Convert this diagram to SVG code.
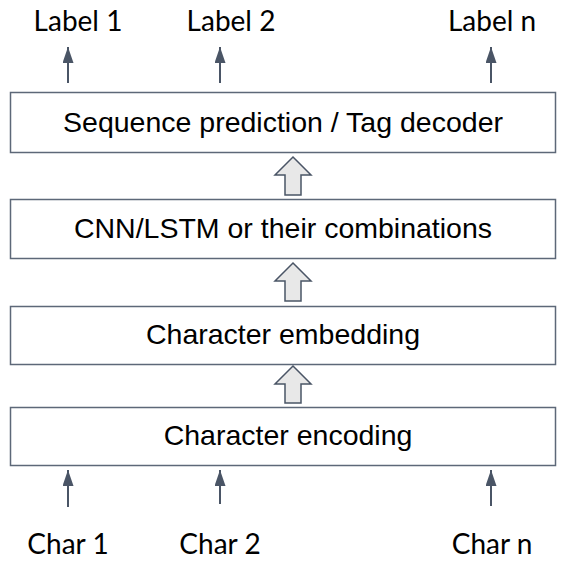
<svg xmlns="http://www.w3.org/2000/svg" width="574" height="566" viewBox="0 0 574 566">
<style>
.box{fill:#fff;stroke:#5d6878;stroke-width:1.5}
.t{font-family:"Liberation Sans",Arial,sans-serif;font-size:28.5px;fill:#000;text-anchor:middle;dominant-baseline:central}
.lbl{font-family:"Lato","Open Sans",sans-serif;font-size:28px;fill:#000;text-anchor:middle}
.ln{stroke:#4a5566;stroke-width:2;fill:none}
.hollow{fill:#e8e8e8;stroke:#4a5566;stroke-width:1.5;stroke-linejoin:miter}
</style>
<defs>
<marker id="ah" viewBox="0 0 16 11" refX="16" refY="5.5" markerWidth="8" markerHeight="5.5" orient="auto" markerUnits="strokeWidth">
<path d="M0,0 L16,5.5 L0,11 z" fill="#4a5566"/>
</marker>
</defs>
<rect width="574" height="566" fill="#fff"/>
<g id="decoder"><rect class="box" x="10.5" y="92.5" width="545" height="60"/><text class="t" x="283" y="122">Sequence prediction / Tag decoder</text></g>
<g id="cnn"><rect class="box" x="10.5" y="199.5" width="545" height="59"/><text class="t" x="283" y="228">CNN/LSTM or their combinations</text></g>
<g id="embedding"><rect class="box" x="10.5" y="306.5" width="545" height="58"/><text class="t" x="283" y="334">Character embedding</text></g>
<g id="encoding"><rect class="box" x="10.5" y="407.5" width="545" height="58"/><text class="t" x="288" y="435">Character encoding</text></g>
<g id="labels">
<text class="lbl" x="78" y="31">Label 1</text>
<text class="lbl" x="231" y="31">Label 2</text>
<text class="lbl" x="492" y="31">Label n</text>
<text class="lbl" x="68" y="554">Char 1</text>
<text class="lbl" x="220" y="554">Char 2</text>
<text class="lbl" x="492" y="554">Char n</text>
</g>
<g id="connectors">
<line class="ln" x1="68" y1="83" x2="68" y2="47" marker-end="url(#ah)"/>
<line class="ln" x1="220" y1="83" x2="220" y2="47" marker-end="url(#ah)"/>
<line class="ln" x1="491" y1="83" x2="491" y2="47" marker-end="url(#ah)"/>
<line class="ln" x1="68" y1="507" x2="68" y2="470" marker-end="url(#ah)"/>
<line class="ln" x1="220" y1="504" x2="220" y2="470" marker-end="url(#ah)"/>
<line class="ln" x1="491" y1="506" x2="491" y2="470" marker-end="url(#ah)"/>
<path class="hollow" d="M293,157 L311,175 L301,175 L301,195 L285,195 L285,175 L275,175 Z"/>
<path class="hollow" d="M293,263 L311,281 L301,281 L301,301 L285,301 L285,281 L275,281 Z"/>
<path class="hollow" d="M293,366 L311,384 L301,384 L301,403 L285,403 L285,384 L275,384 Z"/>
</g>
</svg>
